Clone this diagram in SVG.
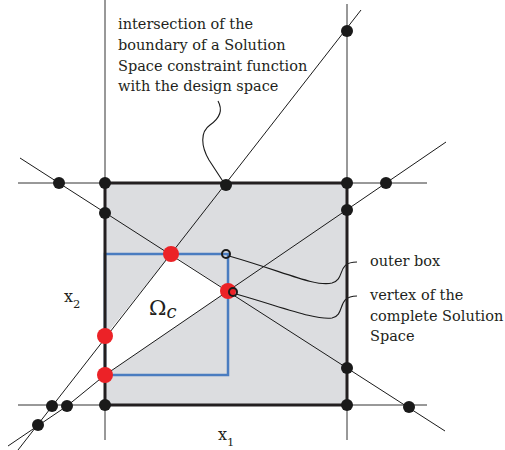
<svg xmlns="http://www.w3.org/2000/svg" width="505" height="450" viewBox="0 0 505 450">
  <style>
    .thin { stroke: #333; stroke-width: 1; fill: none; }
    .cl { stroke: #1a1a1a; stroke-width: 1; fill: none; }
    .lead { stroke: #1a1a1a; stroke-width: 1.1; fill: none; }
    .dot { fill: #1a1a1a; }
    .red { fill: #ec2227; }
    .open { fill: none; stroke: #1a1a1a; stroke-width: 2; }
    .lbl { font-family: "DejaVu Serif", "Liberation Serif", serif; font-size: 14.5px; fill: #231f20; }
  </style>
  <rect x="0" y="0" width="505" height="450" fill="#ffffff"/>
  <g id="design-space">
    <rect x="105" y="183" width="242" height="222" fill="#dcdde0"/>
  </g>
  <g id="omega-region">
    <polygon points="105,336 171,254 228,291 105,375" fill="#ffffff"/>
  </g>
  <g id="outer-box">
    <rect x="105" y="254" width="123" height="121" fill="none" stroke="#4a7cc0" stroke-width="2.5"/>
  </g>
  <g id="connectors">
    <line class="thin" x1="105" y1="0" x2="105" y2="440"/>
    <line class="thin" x1="347" y1="4" x2="347" y2="440"/>
    <line class="thin" x1="18" y1="183" x2="427" y2="183"/>
    <line class="thin" x1="18" y1="405" x2="427" y2="405"/>
    <line class="cl" x1="361" y1="10" x2="18" y2="450"/>
    <polyline class="cl" points="446,142 105,375 67,406 8,446"/>
    <line class="cl" x1="20" y1="158" x2="445" y2="431"/>
    <path class="lead" d="M218,101 C223,110 220,118 210,125 C200,132 201,146 209,160 L224,183"/>
    <path class="lead" d="M229,256 C285,272 315,287 332,283 C346,279 336,262 357,262"/>
    <path class="lead" d="M236,294 C285,308 315,320 332,318 C346,315 336,296 357,296"/>
  </g>
  <g id="box-border">
    <rect x="105" y="183" width="242" height="222" fill="none" stroke="#231f20" stroke-width="3"/>
  </g>
  <g id="black-dots">
    <circle class="dot" cx="59" cy="183" r="6"/>
    <circle class="dot" cx="105" cy="183" r="6"/>
    <circle class="dot" cx="226" cy="185" r="6"/>
    <circle class="dot" cx="347" cy="183" r="6"/>
    <circle class="dot" cx="386" cy="183" r="6"/>
    <circle class="dot" cx="105" cy="213" r="6"/>
    <circle class="dot" cx="347" cy="210" r="6"/>
    <circle class="dot" cx="347" cy="31" r="6"/>
    <circle class="dot" cx="105" cy="405" r="6"/>
    <circle class="dot" cx="347" cy="405" r="6"/>
    <circle class="dot" cx="409" cy="407" r="6"/>
    <circle class="dot" cx="347" cy="368" r="6"/>
    <circle class="dot" cx="52" cy="406" r="6"/>
    <circle class="dot" cx="67" cy="406" r="6"/>
    <circle class="dot" cx="38" cy="425" r="6"/>
  </g>
  <g id="red-dots">
    <circle class="red" cx="171" cy="254" r="8"/>
    <circle class="red" cx="228" cy="291" r="8"/>
    <circle class="red" cx="105" cy="336" r="8"/>
    <circle class="red" cx="105" cy="375" r="8"/>
  </g>
  <g id="open-circles">
    <circle class="open" cx="226" cy="254" r="4"/>
    <circle class="open" cx="233" cy="292" r="4"/>
  </g>
  <g id="label-intersection">
    <text class="lbl" x="118" y="29">intersection of the</text>
    <text class="lbl" x="118" y="50">boundary of a Solution</text>
    <text class="lbl" x="118" y="71">Space constraint function</text>
    <text class="lbl" x="118" y="91">with the design space</text>
  </g>
  <g id="label-outer-box">
    <text class="lbl" x="370" y="266">outer box</text>
  </g>
  <g id="label-vertex">
    <text class="lbl" x="370" y="300">vertex of the</text>
    <text class="lbl" x="370" y="321">complete Solution</text>
    <text class="lbl" x="370" y="341">Space</text>
  </g>
  <g id="label-omega">
    <text class="lbl" x="149" y="315" style="font-size:21px">Ω<tspan style="font-style:italic;font-size:18px" dy="3">c</tspan></text>
  </g>
  <g id="label-x2">
    <text class="lbl" x="64" y="302" style="font-size:16px">x<tspan dy="6" style="font-size:11.5px">2</tspan></text>
  </g>
  <g id="label-x1">
    <text class="lbl" x="218" y="440" style="font-size:16px">x<tspan dy="6" style="font-size:11.5px">1</tspan></text>
  </g>
</svg>
